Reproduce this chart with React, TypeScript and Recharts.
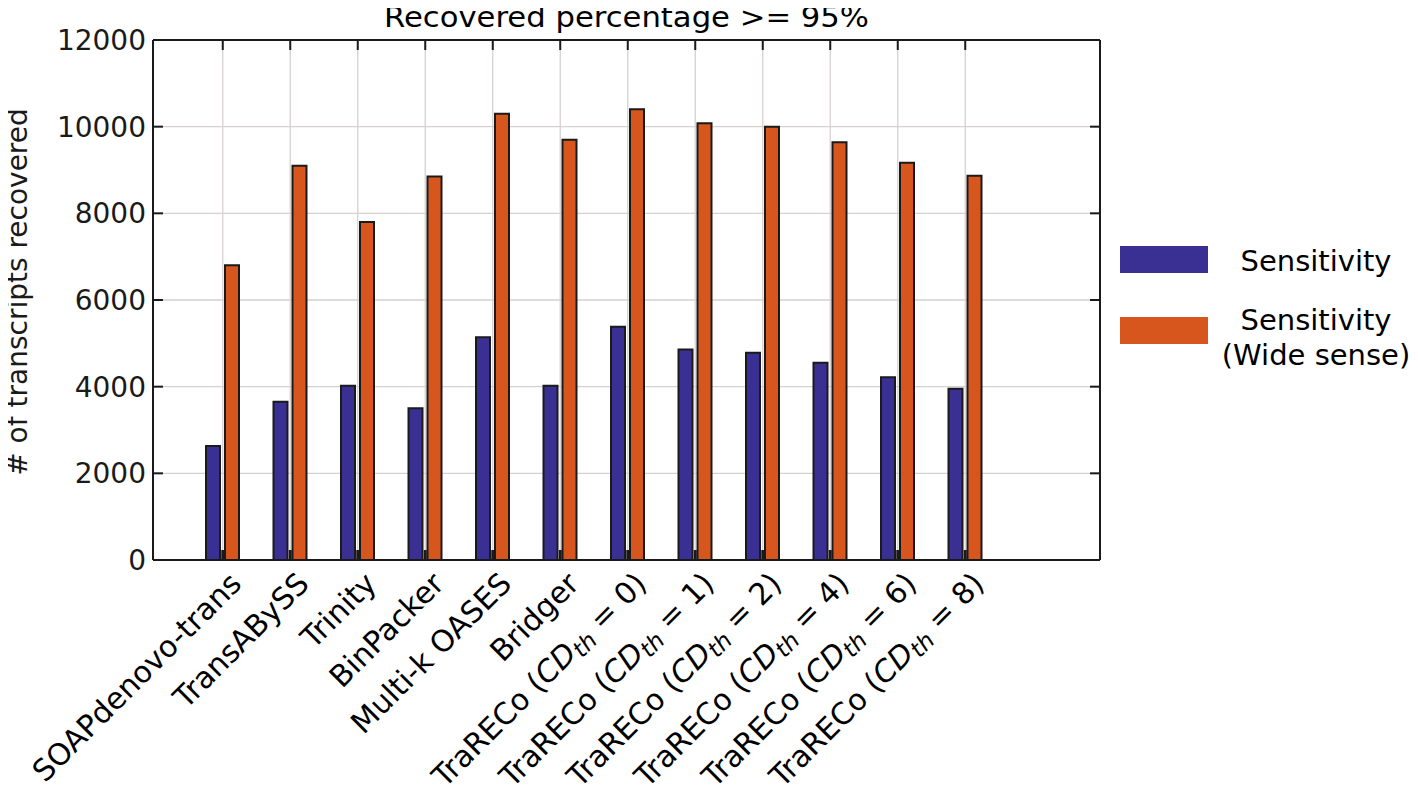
import React from 'react';
import { BarChart, Bar, XAxis, YAxis, CartesianGrid, Legend, ReferenceLine } from 'recharts';

const categories = [
  'SOAPdenovo-trans',
  'TransABySS',
  'Trinity',
  'BinPacker',
  'Multi-k OASES',
  'Bridger',
  'TraRECo (CD_th = 0)',
  'TraRECo (CD_th = 1)',
  'TraRECo (CD_th = 2)',
  'TraRECo (CD_th = 4)',
  'TraRECo (CD_th = 6)',
  'TraRECo (CD_th = 8)',
];
const sensitivity = [2630, 3650, 4020, 3500, 5140, 4020, 5380, 4860, 4780, 4550, 4220, 3950];
const sensitivityWide = [6800, 9100, 7800, 8850, 10300, 9700, 10400, 10080, 10000, 9640, 9170, 8870];
const seriesNames = ['Sensitivity', 'Sensitivity (Wide sense)'];
const yTicks = [0, 2000, 4000, 6000, 8000, 10000, 12000];
const titleText = 'Recovered percentage >= 95%';
const yLabelText = '# of transcripts recovered';

const data = categories.map((c, i) => ({ name: c, s: sensitivity[i], w: sensitivityWide[i] }));

const FONT = '"DejaVu Sans", Verdana, sans-serif';
const BLUE = '#3a3093';
const ORANGE = '#d6561e';
const INK = '#1a1a1a';
const GRID = '#d6d0d0';
const TICK_LEN = 10;

const XTick = (props: any) => {
  const { x, y, payload } = props;
  const label: string = String(payload.value);
  const m = label.match(/^(.*)\(CD_th = (.*)\)$/);
  return (
    <g transform={`translate(${x + 13},${y + 18}) rotate(-45)`}>
      <text x={0} y={0} dy="0.35em" textAnchor="end" fontFamily={FONT} fontSize={30} fill="#000">
        {m ? (
          <>
            <tspan>{m[1]}(</tspan>
            <tspan fontStyle="italic">CD</tspan>
            <tspan fontStyle="italic" fontSize={23} dy={5}>th</tspan>
            <tspan dy={-5}>{` = ${m[2]})`}</tspan>
          </>
        ) : (
          label
        )}
      </text>
    </g>
  );
};

const YLabel = (props: any) => {
  const vb = props.viewBox || {};
  const cy = (vb.y ?? 0) + (vb.height ?? 0) / 2 - 8;
  const lx = 27;
  return (
    <text
      x={lx}
      y={cy}
      transform={`rotate(-90, ${lx}, ${cy})`}
      textAnchor="middle"
      fontFamily={FONT}
      fontSize={28}
      fill="#1a1a1a"
    >
      {yLabelText}
    </text>
  );
};

const TitleLabel = (props: any) => {
  const vb = props.viewBox || {};
  const cx = (vb.x ?? 0) + (vb.width ?? 0) / 2;
  const by = (vb.y ?? 0) - 12;
  return (
    <text
      x={cx}
      y={by}
      textAnchor="middle"
      fontFamily={FONT}
      fontSize={28}
      textLength={485}
      lengthAdjust="spacingAndGlyphs"
      fill="#000"
    >
      {titleText}
    </text>
  );
};

// inward tick marks at both ends of a horizontal reference line (y ticks)
const HTicks = (p: any) => {
  const xa = Math.min(p.x1, p.x2);
  const xb = Math.max(p.x1, p.x2);
  return (
    <g>
      <line x1={xa} x2={xa + TICK_LEN} y1={p.y1} y2={p.y1} stroke={INK} strokeWidth={2} />
      <line x1={xb - TICK_LEN} x2={xb} y1={p.y1} y2={p.y1} stroke={INK} strokeWidth={2} />
    </g>
  );
};

// inward tick marks at both ends of a vertical reference line (category ticks)
const VTicks = (p: any) => {
  const ya = Math.min(p.y1, p.y2);
  const yb = Math.max(p.y1, p.y2);
  return (
    <g>
      <line x1={p.x1} x2={p.x1} y1={ya} y2={ya + TICK_LEN} stroke={INK} strokeWidth={2} />
      <line x1={p.x1} x2={p.x1} y1={yb - TICK_LEN} y2={yb} stroke={INK} strokeWidth={3} />
    </g>
  );
};

const LegendContent = (props: any) => {
  const payload = props.payload || [];
  return (
    <div style={{ position: 'relative', width: 300, height: 140, fontFamily: FONT, fontSize: 29, color: '#000' }}>
      {payload.map((p: any, i: number) => {
        const name = String(p.value);
        const idx = name.indexOf(' (');
        const lines = idx > 0 ? [name.slice(0, idx), name.slice(idx + 1)] : [name];
        const swTop = i * 71;
        const textCenter = i === 0 ? 15 : 74 + (lines.length - 1) * 17.5;
        return (
          <div key={i}>
            <div
              style={{
                position: 'absolute',
                left: 0,
                top: swTop,
                width: 88,
                height: 27,
                background: p.color,
              }}
            />
            <div
              style={{
                position: 'absolute',
                left: 98,
                width: 196,
                top: textCenter - (lines.length * 35) / 2,
                lineHeight: '35px',
                textAlign: 'center',
                whiteSpace: 'nowrap',
              }}
            >
              {lines.map((l, k) => (
                <div key={k}>{l}</div>
              ))}
            </div>
          </div>
        );
      })}
    </div>
  );
};

export default function App() {
  const axisLine = { stroke: INK, strokeWidth: 2 };
  const pad = { left: 36, right: 101 };
  return (
    <div style={{ position: 'relative', width: 1418, height: 806, margin: '-8px 0 0 -8px' }}>
      <BarChart
        width={1418}
        height={806}
        data={data}
        margin={{ top: 39, right: 317, bottom: 6, left: 53 }}
        barGap={5}
      >
        <CartesianGrid stroke={GRID} strokeWidth={1.3} />
        <XAxis
          dataKey="name"
          type="category"
          interval={0}
          padding={pad}
          height={240}
          tickSize={-10}
          tickMargin={10}
          axisLine={axisLine}
          tickLine={false}
          tick={<XTick />}
        />
        <XAxis
          xAxisId="top"
          orientation="top"
          dataKey="name"
          type="category"
          interval={0}
          padding={pad}
          height={1}
          axisLine={axisLine}
          tickLine={false}
          tick={false}
          label={<TitleLabel />}
        />
        <YAxis
          type="number"
          domain={[0, 12000]}
          ticks={yTicks}
          interval={0}
          width={100}
          tickSize={-10}
          tickMargin={17}
          axisLine={axisLine}
          tickLine={false}
          tick={{ fontFamily: FONT, fontSize: 28, fill: '#1a1a1a' }}
          label={<YLabel />}
        />
        <YAxis
          yAxisId="right"
          orientation="right"
          type="number"
          domain={[0, 12000]}
          ticks={yTicks}
          interval={0}
          width={1}
          axisLine={axisLine}
          tickLine={false}
          tick={false}
        />
        <Legend
          layout="horizontal"
          align="center"
          verticalAlign="middle"
          content={<LegendContent />}
          wrapperStyle={{ left: 1120, top: 246, width: 300, height: 140 }}
        />
        <Bar dataKey="s" name={seriesNames[0]} fill={BLUE} stroke={INK} strokeWidth={2} barSize={14} isAnimationActive={false} />
        <Bar dataKey="w" name={seriesNames[1]} fill={ORANGE} stroke={INK} strokeWidth={2} barSize={14} isAnimationActive={false} />
        {yTicks.map((v) => (
          <ReferenceLine key={`yt-${v}`} y={v} shape={HTicks} />
        ))}
        {categories.map((c) => (
          <ReferenceLine key={`xt-${c}`} x={c} shape={VTicks} />
        ))}
      </BarChart>
    </div>
  );
}
